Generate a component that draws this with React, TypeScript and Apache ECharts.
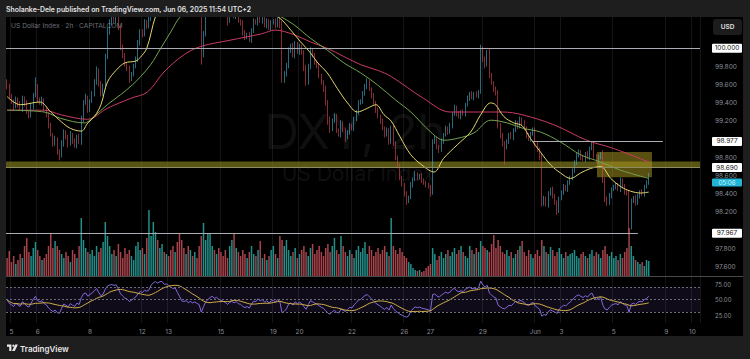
import React, { useEffect, useRef } from "react";
import * as echarts from "echarts";

// ---- price data: 2h candles (closes), open = previous close ----
const firstOpen = 99.62;
const closes = [
  99.58, 99.47,
  99.42, 99.36, 99.44, 99.38, 99.33, 99.45, 99.40, 99.30, 99.26, 99.36, 99.48, 99.58,
  99.44, 99.40, 99.43, 99.33, 99.28, 99.15, 99.05, 98.96, 99.00, 98.86, 98.82, 98.95,
  99.08, 99.02, 98.95, 99.05, 98.98, 98.93, 99.03, 98.97, 99.22, 99.40, 99.45, 99.33,
  99.42, 99.50, 99.62, 99.75, 99.62, 99.50, 99.58, 99.90, 100.18, 100.28, 100.33, 100.30,
  100.36, 100.22, 100.02, 99.92, 99.82, 99.78, 99.66, 99.72, 99.80, 99.88, 100.05, 100.18,
  100.15, 100.28, 100.25, 100.32, 100.70, 100.95, 101.10, 101.05, 101.20, 101.25, 101.15, 101.20,
  101.15, 101.10, 101.05, 101.10, 100.95, 100.80, 100.60, 100.55, 100.60, 100.50, 100.55, 100.48,
  100.52, 100.45, 100.40, 99.93, 100.15, 100.38, 100.50, 100.62, 100.70, 100.60, 100.65, 100.55,
  100.50, 100.45, 100.40, 100.30, 100.38, 100.42, 100.35, 100.40, 100.30, 100.28, 100.18, 100.12,
  100.15, 100.08, 100.20, 100.30, 100.28, 100.38, 100.30, 100.35, 100.25, 100.30, 100.22, 100.28,
  100.30, 100.25, 100.32, 100.25, 99.66, 99.72, 99.80, 99.98, 100.02, 99.92, 100.05, 99.96,
  100.02, 99.95, 99.78, 99.62, 99.80, 99.98, 99.92, 99.85, 99.80, 99.70, 99.62, 99.55,
  99.40, 99.20, 99.12, 99.20, 99.25, 99.10, 99.05, 99.18, 99.10, 99.02, 99.08, 99.15,
  99.12, 99.22, 99.30, 99.40, 99.42, 99.50, 99.58, 99.62, 99.55, 99.48, 99.40, 99.32,
  99.25, 99.20, 99.12, 99.05, 99.10, 98.98, 99.12, 98.95, 98.80, 98.70, 98.58, 98.50,
  98.40, 98.33, 98.36, 98.50, 98.56, 98.62, 98.58, 98.60, 98.55, 98.52, 98.50, 98.48,
  98.42, 98.97, 99.00, 98.92, 98.88, 98.98, 99.05, 99.12, 99.08, 99.15, 99.28, 99.35,
  99.28, 99.25, 99.30, 99.28, 99.38, 99.45, 99.50, 99.46, 99.50, 99.48, 99.52, 99.98,
  99.88, 99.82, 99.95, 99.70, 99.62, 99.55, 99.50, 99.15, 99.05, 98.95, 98.92, 98.98,
  99.05, 99.02, 99.10, 99.18, 99.14, 99.22, 99.18, 99.12, 99.04, 99.00, 99.06, 99.10,
  98.95, 98.88, 98.80, 98.30, 98.35, 98.28, 98.40, 98.45, 98.38, 98.30, 98.22, 98.35,
  98.42, 98.48, 98.45, 98.52, 98.58, 98.65, 98.75, 98.82, 98.86, 98.80, 98.78, 98.84,
  98.80, 98.90, 98.95, 98.82, 98.76, 98.80, 98.84, 98.55, 98.35, 98.30, 98.38, 98.45,
  98.48, 98.50, 98.45, 98.55, 98.48, 98.42, 98.40, 98.04, 98.32, 98.36, 98.30, 98.38,
  98.42, 98.40, 98.48, 98.52, 98.61,
];
// upper / lower wick lengths in hundredths
const wickUp = [
  4, 3,
  3, 2, 3, 2, 4, 3, 2, 3, 2, 4, 3, 10,
  3, 2, 4, 2, 3, 2, 3, 2, 4, 2, 3, 4,
  3, 2, 3, 4, 2, 3, 2, 3, 4, 3, 5, 3,
  2, 3, 4, 5, 3, 2, 3, 4, 5, 4, 3, 4,
  3, 2, 3, 2, 3, 2, 3, 2, 3, 3, 4, 3,
  3, 4, 3, 5, 6, 5, 4, 3, 4, 5, 3, 3,
  3, 2, 3, 4, 3, 3, 4, 3, 2, 3, 2, 3,
  3, 4, 3, 6, 4, 3, 4, 3, 3, 4, 3, 2,
  3, 2, 3, 3, 2, 3, 2, 3, 2, 2, 3, 2,
  2, 3, 2, 3, 2, 3, 2, 3, 2, 3, 2, 3,
  2, 3, 2, 4, 5, 3, 4, 3, 3, 4, 3, 2,
  3, 2, 3, 4, 3, 3, 2, 3, 2, 3, 2, 3,
  4, 3, 5, 3, 4, 3, 2, 3, 2, 3, 2, 3,
  2, 3, 2, 3, 2, 3, 3, 5, 3, 2, 3, 2,
  3, 2, 3, 2, 3, 2, 3, 4, 3, 2, 3, 2,
  2, 3, 2, 3, 2, 3, 2, 2, 3, 2, 2, 2,
  2, 3, 4, 3, 2, 3, 2, 3, 2, 3, 2, 3,
  2, 3, 2, 3, 2, 3, 2, 3, 2, 3, 2, 6,
  4, 3, 3, 5, 3, 2, 3, 4, 3, 2, 3, 2,
  2, 3, 2, 3, 2, 3, 2, 3, 2, 3, 2, 3,
  3, 2, 3, 5, 3, 2, 3, 2, 3, 2, 3, 2,
  2, 3, 2, 3, 2, 3, 2, 3, 3, 2, 3, 2,
  3, 2, 3, 3, 2, 3, 2, 4, 3, 2, 3, 2,
  2, 3, 2, 3, 2, 3, 2, 4, 3, 2, 3, 2,
  2, 3, 2, 3, 2,
];
const wickDown = [
  3, 2,
  3, 4, 2, 3, 2, 3, 4, 2, 3, 2, 3, 2,
  3, 2, 3, 2, 4, 3, 2, 4, 3, 3, 5, 2,
  3, 2, 4, 2, 3, 2, 3, 2, 3, 3, 2, 4,
  3, 2, 3, 2, 4, 3, 2, 3, 2, 3, 3, 2,
  3, 2, 4, 3, 2, 3, 4, 2, 3, 2, 3, 2,
  3, 2, 4, 3, 2, 3, 4, 3, 2, 3, 4, 3,
  2, 3, 2, 3, 4, 3, 5, 3, 2, 3, 2, 3,
  3, 2, 3, 11, 3, 2, 3, 2, 3, 2, 3, 2,
  3, 2, 3, 5, 2, 3, 2, 3, 2, 3, 4, 3,
  2, 1, 2, 3, 2, 3, 2, 3, 2, 3, 2, 3,
  2, 3, 2, 3, 4, 4, 3, 2, 3, 2, 3, 2,
  3, 2, 3, 3, 2, 3, 2, 3, 2, 3, 2, 3,
  3, 4, 5, 3, 2, 3, 2, 3, 2, 5, 2, 3,
  2, 3, 2, 3, 2, 3, 2, 3, 2, 3, 2, 3,
  2, 3, 2, 3, 2, 4, 3, 2, 3, 2, 3, 2,
  3, 5, 3, 2, 3, 2, 3, 2, 3, 2, 3, 2,
  5, 3, 2, 3, 3, 2, 3, 2, 3, 2, 3, 2,
  3, 2, 3, 2, 3, 2, 3, 2, 3, 2, 3, 2,
  3, 4, 2, 3, 2, 3, 2, 3, 4, 3, 20, 3,
  3, 2, 3, 2, 3, 2, 3, 2, 3, 2, 3, 2,
  3, 2, 3, 4, 3, 2, 3, 2, 3, 2, 5, 3,
  2, 3, 2, 3, 2, 3, 2, 3, 2, 3, 2, 3,
  2, 3, 2, 3, 2, 3, 2, 3, 4, 3, 2, 3,
  2, 3, 2, 3, 2, 3, 2, 7, 3, 2, 3, 2,
  3, 2, 3, 2, 2,
];
const volumes = [
  18, 25,
  14, 20, 12, 16, 22, 18, 30, 38, 24, 20, 28, 34,
  26, 20, 16, 18, 22, 30, 42, 28, 35, 30, 26, 22,
  18, 24, 20, 14, 26, 22, 18, 30, 58, 36, 28, 24,
  22, 26, 20, 30, 24, 28, 34, 54, 40, 30, 22, 26,
  20, 32, 24, 18, 28, 22, 26, 20, 16, 30, 34, 26,
  28, 22, 38, 66, 40, 54, 44, 36, 28, 32, 24, 22,
  20, 26, 30, 24, 34, 43, 36, 28, 22, 30, 26, 20,
  24, 18, 30, 40, 53, 36, 43, 42, 30, 26, 22, 28,
  24, 20, 26, 18, 30, 36, 43, 28, 24, 20, 26, 22,
  18, 24, 30, 22, 20, 26, 35, 18, 22, 16, 20, 26,
  30, 22, 18, 40, 36, 30, 36, 26, 20, 24, 28, 18,
  22, 26, 30, 24, 20, 28, 32, 22, 26, 30, 24, 20,
  28, 32, 24, 30, 38, 26, 22, 40, 30, 24, 20, 26,
  22, 18, 26, 30, 24, 28, 34, 22, 30, 26, 20, 24,
  28, 22, 26, 30, 24, 20, 58, 30, 26, 22, 28, 24,
  20, 18, 14, 12, 8, 6, 5, 6, 4, 5, 8, 10,
  12, 28, 22, 16, 20, 24, 18, 22, 26, 20, 24, 28,
  22, 26, 30, 24, 20, 18, 30, 26, 22, 28, 24, 35,
  30, 28, 26, 24, 32, 41, 28, 36, 30, 24, 22, 26,
  20, 24, 18, 22, 26, 30, 35, 24, 20, 26, 22, 18,
  22, 26, 20, 36, 30, 24, 22, 29, 26, 20, 24, 28,
  22, 18, 24, 20, 22, 23, 26, 20, 18, 22, 24, 20,
  18, 22, 26, 20, 24, 22, 18, 26, 30, 22, 20, 24,
  18, 20, 16, 22, 18, 24, 28, 48, 30, 20, 16, 14,
  12, 14, 10, 16, 15,
];

// ---- moving averages: [bar index, price] ----
const maFast = [
  [0, 99.47], [6, 99.38], [15, 99.41], [20, 99.3], [25, 99.19], [29, 99.12], [34, 99.09], [37, 99.18],
  [40, 99.25], [43, 99.38], [46, 99.63], [50, 99.76], [54, 99.84], [59, 99.86], [61, 99.9], [64, 100.0],
  [68, 100.35], [72, 100.55], [78, 100.75], [86, 100.8], [92, 100.65], [100, 100.6], [110, 100.5],
  [118, 100.42], [125, 100.33], [130, 100.2], [134.5, 100.07], [139, 99.95], [142, 99.85], [146.7, 99.73],
  [151.3, 99.56], [156, 99.4], [160.5, 99.3], [165, 99.34], [169, 99.38], [172.7, 99.27], [176, 99.2],
  [180, 99.03], [185, 98.83], [191, 98.7], [195.6, 98.64], [200, 98.79], [206.3, 98.94], [212.4, 99.08],
  [217, 99.27], [221.6, 99.4], [223.8, 99.38], [227.6, 99.25], [232.2, 99.18], [236, 99.15], [239.8, 99.01],
  [244.4, 98.86], [249, 98.72], [253.6, 98.63], [258.2, 98.57], [262.8, 98.63], [267.4, 98.68], [272, 98.7],
  [276.6, 98.57], [281.2, 98.48], [285.7, 98.43], [290.3, 98.41], [294, 98.42],
];
const maMid = [
  [0, 99.32], [17, 99.3], [24.6, 99.23], [35.3, 99.18], [39.8, 99.25], [45.9, 99.38], [52, 99.49],
  [57.5, 99.6], [61.2, 99.69], [65.8, 99.82], [70.4, 100.0], [75, 100.18], [79.5, 100.35], [88, 100.5],
  [100, 100.58], [112, 100.5], [120, 100.42], [125.3, 100.35], [131.4, 100.26], [139, 100.11],
  [146.7, 99.98], [154.3, 99.84], [162, 99.73], [169.6, 99.6], [178.1, 99.43], [185, 99.3], [194.1, 99.08],
  [200.2, 98.99], [206.3, 99.01], [213.9, 99.07], [221.6, 99.21], [229.2, 99.18], [236.5, 99.12],
  [244.4, 99.08], [253.6, 98.97], [262.8, 98.83], [272, 98.75], [281.2, 98.66], [294, 98.57],
];
const maSlow = [
  [0, 99.32], [17, 99.32], [24.6, 99.27], [36.8, 99.22], [45.9, 99.34], [56.6, 99.45], [64.3, 99.52],
  [71.9, 99.74], [81.1, 99.93], [88.7, 100.02], [102.4, 100.09], [116.7, 100.16], [122.8, 100.2],
  [131.4, 100.15], [139, 100.07], [146.7, 100.0], [154.3, 99.91], [162, 99.82], [169.6, 99.76],
  [176, 99.69], [190.8, 99.45], [203, 99.3], [216, 99.3], [227, 99.3], [236, 99.27], [250.5, 99.16],
  [265.6, 98.99], [277.8, 98.9], [294, 98.75],
];

// ---- calendar ----
const dayLabels = ["5", "6", "8", "12", "13", "15", "19", "20", "22", "26", "27", "29", "Jun", "3", "5", "9", "10"];
const dayNumbers = [0, 1, 3, 5, 6, 8, 10, 11, 13, 15, 16, 18, 20, 21, 23, 25, 26]; // trading-day index
const barsPerDay = 12;
const firstDayBar = 2;
const slotCount = 318;

// ---- levels & ticks ----
const priceTicks = [99.8, 99.6, 99.4, 99.2, 98.8, 98.6, 98.4, 98.2, 97.8, 97.6];
const keyLevels = [100.0, 98.977, 98.69, 97.967];
const resistanceSpan = [241, 300.5];
const supportEnd = 289;
const bandRange = [98.755, 98.685];
const zoneRange = { from: 270.3, to: 295.5, top: 98.86, bottom: 98.582 };
const rsiTicks = [25, 50, 75];
const rsiBands = [70, 50, 30];
const countdown = "05:06";

const UP = "#3fb3d3";
const DOWN = "#e0475b";
const FONT = "Inter";

export default function App() {
  const ref = useRef<HTMLDivElement>(null);
  useEffect(() => {
    document.body.style.margin = "0";
    const el = ref.current!;
    const chart = echarts.init(el, undefined, { renderer: "svg", width: 750, height: 359 });

    const candles = closes.map((c, i) => {
      const o = i === 0 ? firstOpen : closes[i - 1];
      return [o, c, Math.min(o, c) - wickDown[i] / 100, Math.max(o, c) + wickUp[i] / 100];
    });
    const vols = volumes.map((v, i) => ({
      value: v,
      itemStyle: { color: candles[i][1] >= candles[i][0] ? "#22908a" : "#a8434c" },
    }));

    // RSI 14 (Wilder) and its 14 SMA
    const period = 14;
    let ag = 0.035, al = 0.032, prev = firstOpen;
    const rsi: number[] = [];
    closes.forEach((c) => {
      const d = c - prev;
      ag = (ag * (period - 1) + Math.max(d, 0)) / period;
      al = (al * (period - 1) + Math.max(-d, 0)) / period;
      rsi.push(al === 0 ? 100 : 100 - 100 / (1 + ag / al));
      prev = c;
    });
    const rsiMa = rsi.map((_, i) => {
      const s = rsi.slice(Math.max(0, i - period + 1), i + 1);
      return s.reduce((a, b) => a + b, 0) / s.length;
    });

    const slots = Array.from({ length: slotCount }, (_, i) => String(i));
    const labelBySlot: Record<number, string> = {};
    dayNumbers.forEach((d, k) => (labelBySlot[firstDayBar + barsPerDay * d] = dayLabels[k]));
    const isLabel = (idx: number) => labelBySlot[idx] !== undefined;

    const maLine = (data: number[][], color: string) => ({
      type: "line", xAxisIndex: 1, yAxisIndex: 0, data, smooth: 0.35, symbol: "none",
      lineStyle: { color, width: 1 }, silent: true, z: 3,
    });

    const option: any = {
      animation: false,
      backgroundColor: "#000000",
      grid: [
        { left: 6, top: 17, width: 694, height: 259 },
        { left: 6, top: 277, width: 694, height: 46 },
      ],
      xAxis: [
        {
          type: "category", gridIndex: 0, data: slots, boundaryGap: true,
          axisLine: { show: false }, axisTick: { show: false }, axisLabel: { show: false },
          splitLine: { show: true, interval: isLabel, lineStyle: { color: "#151515", width: 1 } },
        },
        { type: "value", gridIndex: 0, min: -0.5, max: slotCount - 0.5, show: false },
        {
          type: "category", gridIndex: 1, data: slots, boundaryGap: true,
          axisLine: { show: false }, axisTick: { show: false },
          axisLabel: {
            show: true, interval: isLabel, formatter: (_v: string, i: number) => labelBySlot[i] ?? "",
            color: "#8c8f97", fontSize: 6.5, fontFamily: FONT, margin: 5,
          },
          splitLine: { show: true, interval: isLabel, lineStyle: { color: "#151515", width: 1 } },
        },
      ],
      yAxis: [
        {
          type: "value", gridIndex: 0, position: "right", min: 97.498, max: 100.344, scale: true,
          splitLine: { show: false }, axisLine: { show: false }, axisTick: { show: false },
          axisLabel: {
            customValues: priceTicks, formatter: (v: number) => v.toFixed(3),
            color: "#8c8f97", fontSize: 6.5, fontFamily: FONT, margin: 15,
          },
        },
        { type: "value", gridIndex: 0, min: 0, max: 259, show: false },
        {
          type: "value", gridIndex: 1, position: "right", min: 12.5, max: 86.5,
          splitLine: { show: false }, axisLine: { show: false }, axisTick: { show: false },
          axisLabel: {
            customValues: rsiTicks, formatter: (v: number) => v.toFixed(2),
            color: "#8c8f97", fontSize: 6, fontFamily: FONT, margin: 15,
          },
        },
      ],
      series: [
        { type: "bar", xAxisIndex: 0, yAxisIndex: 1, data: vols, barWidth: 1.5, silent: true, z: 1 },
        {
          type: "candlestick", xAxisIndex: 0, yAxisIndex: 0, data: candles, barWidth: 1.3, silent: true, z: 2,
          itemStyle: { color: UP, color0: DOWN, borderColor: UP, borderColor0: DOWN, borderWidth: 0.6 },
        },
        maLine(maSlow, "#c93c62"),
        maLine(maMid, "#74a34e"),
        maLine(maFast, "#e3d56c"),
        {
          type: "line", xAxisIndex: 1, yAxisIndex: 0, data: [[0, keyLevels[0]]], symbol: "none",
          lineStyle: { opacity: 0 }, silent: true, z: 4,
          markArea: {
            silent: true,
            data: [
              [{ coord: [-0.5, bandRange[0]], itemStyle: { color: "rgba(130,124,28,0.68)" } }, { coord: [slotCount - 0.5, bandRange[1]] }],
              [{ coord: [zoneRange.from, zoneRange.top], itemStyle: { color: "rgba(170,152,32,0.52)" } }, { coord: [zoneRange.to, zoneRange.bottom] }],
            ],
          },
          markLine: {
            silent: true, symbol: ["none", "none"], label: { show: false },
            lineStyle: { color: "#a9acb2", width: 1, type: "solid" },
            data: [
              [{ coord: [-0.5, keyLevels[0]] }, { coord: [slotCount - 0.5, keyLevels[0]] }],
              [{ coord: [resistanceSpan[0], keyLevels[1]] }, { coord: [resistanceSpan[1], keyLevels[1]] }],
              [{ coord: [-0.5, keyLevels[3]] }, { coord: [supportEnd, keyLevels[3]] }],
              [{ coord: [-0.5, keyLevels[2]], lineStyle: { color: "#8f8c62" } }, { coord: [slotCount - 0.5, keyLevels[2]] }],
            ],
          },
        },
        {
          type: "line", xAxisIndex: 2, yAxisIndex: 2, data: rsi, symbol: "none", silent: true,
          lineStyle: { color: "#866ade", width: 1 }, z: 3,
          markArea: { silent: true, itemStyle: { color: "rgba(126,87,194,0.12)" }, data: [[{ yAxis: rsiBands[0] }, { yAxis: rsiBands[2] }]] },
          markLine: {
            silent: true, symbol: ["none", "none"], label: { show: false },
            lineStyle: { color: "#6a6d78", width: 1, type: [2, 2] },
            data: rsiBands.map((b) => ({ yAxis: b })),
          },
        },
        {
          type: "line", xAxisIndex: 2, yAxisIndex: 2, data: rsiMa, symbol: "none", silent: true,
          lineStyle: { color: "#d2b04c", width: 1 }, z: 4,
        },
      ],
    };
    chart.setOption(option);

    const yOf = (p: number) => chart.convertToPixel({ yAxisIndex: 0 }, p) as number;
    const txt = (x: number, y: number, text: string, font: string, fill: string, align = "left", z = 60) => ({
      type: "text", x, y, z,
      style: { text, font, fill, align, verticalAlign: "middle", textAlign: align, textVerticalAlign: "middle" },
    });
    const graphics: any[] = [
      // outer frame
      { type: "rect", shape: { x: 0, y: 0, width: 750, height: 17 }, style: { fill: "#1e1e1e" }, z: 50 },
      { type: "rect", shape: { x: 0, y: 336, width: 750, height: 23 }, style: { fill: "#1e1e1e" }, z: 50 },
      { type: "rect", shape: { x: 0, y: 0, width: 6, height: 359 }, style: { fill: "#1e1e1e" }, z: 50 },
      { type: "rect", shape: { x: 743, y: 0, width: 7, height: 359 }, style: { fill: "#1e1e1e" }, z: 50 },
      txt(6, 9, "Sholanke-Dele published on TradingView.com, Jun 06, 2025 11:54 UTC+2", `600 6.9px ${FONT}`, "#e4e4e4"),
      // watermark & legend (behind series)
      { type: "text", x: 355, y: 131, z: 0, style: { text: "DXY, 2h", font: `48px ${FONT}`, fill: "rgba(255,255,255,0.07)", align: "center", verticalAlign: "middle", textAlign: "center", textVerticalAlign: "middle" } },
      { type: "text", x: 358, y: 173, z: 0, style: { text: "US Dollar Index", font: `21px ${FONT}`, fill: "rgba(255,255,255,0.07)", align: "center", verticalAlign: "middle", textAlign: "center", textVerticalAlign: "middle" } },
      { type: "text", x: 11, y: 26, z: 0, style: { text: "US Dollar Index · 2h · CAPITALCOM", font: `6.7px ${FONT}`, fill: "#6d7079", align: "left", verticalAlign: "middle", textAlign: "left", textVerticalAlign: "middle" } },
      // USD button
      { type: "rect", shape: { x: 713, y: 19, width: 29, height: 16, r: 3 }, style: { fill: "#1c1c1c" }, z: 60 },
      txt(727.5, 27, "USD", `600 6.5px ${FONT}`, "#e0e0e0", "center"),
      // pane separator
      { type: "line", shape: { x1: 6, y1: 276.5, x2: 743, y2: 276.5 }, style: { stroke: "#4a4a4a", lineWidth: 1 }, z: 60 },
      // TradingView logo
      {
        type: "group", x: 7, y: 344.6, scaleX: 0.8, scaleY: 0.8, z: 60,
        children: [
          { type: "polygon", shape: { points: [[0, 0], [5.5, 0], [5.5, 8], [2.8, 8], [2.8, 2.8], [0, 2.8]] }, style: { fill: "#e8e8e8" }, z: 60 },
          { type: "circle", shape: { cx: 8, cy: 1.4, r: 1.4 }, style: { fill: "#e8e8e8" }, z: 60 },
          { type: "polygon", shape: { points: [[10.2, 0], [13.6, 0], [9.7, 8], [6.3, 8]] }, style: { fill: "#e8e8e8" }, z: 60 },
        ],
      },
      txt(20, 348.5, "TradingView", `600 8px ${FONT}`, "#e8e8e8"),
    ];
    keyLevels.forEach((p) => {
      const y = yOf(p);
      graphics.push({ type: "rect", shape: { x: 712, y: y - 4.5, width: 30, height: 9, r: 1 }, style: { fill: "#ffffff" }, z: 70 });
      graphics.push(txt(727, y, p.toFixed(3), `6.5px ${FONT}`, "#111111", "center", 71));
    });
    const yLast = yOf(closes[closes.length - 1]) + 7.8;
    graphics.push({ type: "rect", shape: { x: 712, y: yLast - 4, width: 30, height: 8, r: 1 }, style: { fill: "#22b4d2" }, z: 70 });
    graphics.push(txt(727, yLast, countdown, `6.2px ${FONT}`, "#c9f3ff", "center", 71));
    chart.setOption({ graphic: graphics });

    return () => chart.dispose();
  }, []);
  return <div ref={ref} style={{ width: 750, height: 359 }} />;
}
